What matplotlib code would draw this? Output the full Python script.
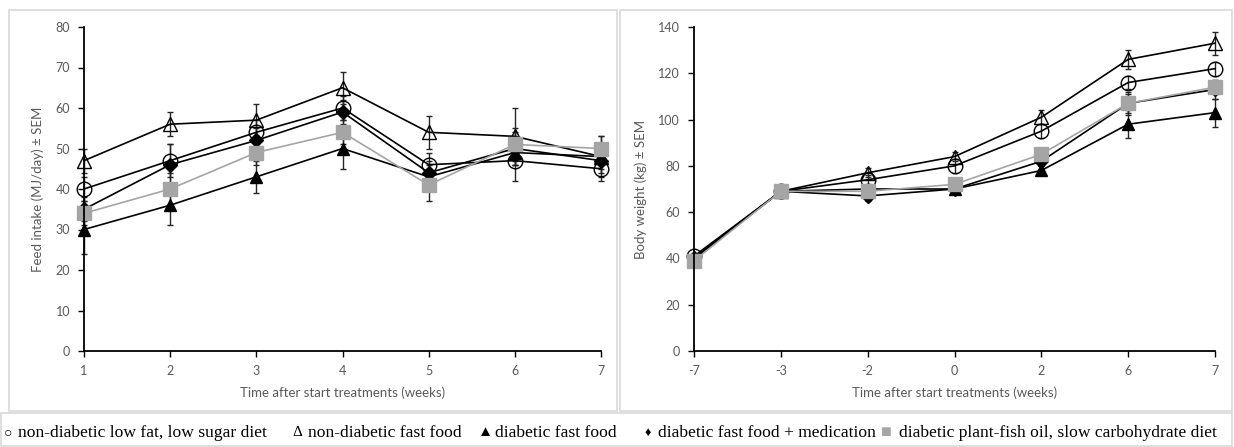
import matplotlib
matplotlib.use("Agg")
import matplotlib.pyplot as plt
from matplotlib.patches import Rectangle

# ---------------- data ----------------
weeks_left = ["1", "2", "3", "4", "5", "6", "7"]
weeks_right = ["-7", "-3", "-2", "0", "2", "6", "7"]

series_names = [
    "non-diabetic low fat, low sugar diet",
    "non-diabetic fast food",
    "diabetic fast food",
    "diabetic fast food + medication",
    "diabetic plant-fish oil, slow carbohydrate diet",
]

# Feed intake (MJ/day)
feed_lowfat = [40, 47, 54, 60, 46, 47, 45]
feed_lowfat_err = [3, 4, 3, 3, 3, 5, 3]
feed_ndff = [47, 56, 57, 65, 54, 53, 48]
feed_ndff_err = [3, 3, 4, 4, 4, 7, 5]
feed_dff = [30, 36, 43, 50, 43, 49, 48]
feed_dff_err = [6, 5, 4, 5, 3, 3, 3]
feed_dffmed = [35, 46, 52, 59, 44, 50, 47]
feed_dffmed_err = [3, 5, 3, 3, 3, 4, 3]
feed_plant = [34, 40, 49, 54, 41, 51, 50]
feed_plant_err = [3, 4, 3, 3, 4, 4, 3]

# Body weight (kg)
bw_lowfat = [41, 69, 74, 80, 95, 116, 122]
bw_lowfat_err = [1, 1, 2, 3, 3, 3, 3]
bw_ndff = [40, 69, 77, 84, 101, 126, 133]
bw_ndff_err = [1, 1, 2, 2, 3, 4, 5]
bw_dff = [40, 69, 70, 70, 78, 98, 103]
bw_dff_err = [1, 1, 1, 1, 2, 6, 6]
bw_dffmed = [40, 69, 67, 70, 82, 107, 113]
bw_dffmed_err = [1, 1, 2, 1, 2, 5, 4]
bw_plant = [39, 69, 69, 72, 85, 107, 114]
bw_plant_err = [1, 1, 2, 2, 2, 4, 3]

# ---------------- style ----------------
W, H = 1234, 447
fig = plt.figure(figsize=(W / 100, H / 100), dpi=100)
fig.patch.set_facecolor("white")

TICK_COL = "#595959"
GRAY = "#A5A5A5"
sans = ["Lato", "DejaVu Sans"]

styles = [
    dict(marker="o", ms=10.5, mfc="none", mec="black", color="black", lw=1.2),
    dict(marker="^", ms=10, mfc="none", mec="black", color="black", lw=1.2),
    dict(marker="^", ms=9, mfc="black", mec="black", color="black", lw=1.2),
    dict(marker="D", ms=7.5, mfc="black", mec="black", color="black", lw=1.2),
    dict(marker="s", ms=10, mfc=GRAY, mec=GRAY, color=GRAY, lw=1.2),
]


def ax_rect(x0, x1, y_top, y_bot):
    return [x0 / W, 1 - y_bot / H, (x1 - x0) / W, (y_bot - y_top) / H]


def draw_panel(ax, cats, data, errs, ymax, ystep, ylabel):
    x = list(range(len(cats)))
    for vals, err, st in zip(data, errs, styles):
        ax.errorbar(x, vals, yerr=err, ecolor="#262626", elinewidth=1.0,
                    capsize=2.3, capthick=1.0, clip_on=False, **st)
    ax.set_xlim(0, len(cats) - 1)
    ax.set_ylim(0, ymax)
    ax.set_xticks(x)
    ax.set_xticklabels(cats)
    ax.set_yticks(range(0, ymax + 1, ystep))
    for s in ["top", "right"]:
        ax.spines[s].set_visible(False)
    for s in ["left", "bottom"]:
        ax.spines[s].set_color("black")
        ax.spines[s].set_linewidth(1.3)
    ax.tick_params(axis="both", direction="out", length=4, width=1.0,
                   colors="black", labelcolor=TICK_COL, labelsize=9, pad=6)
    for lab in ax.get_xticklabels() + ax.get_yticklabels():
        lab.set_fontfamily(sans)
    ax.set_xlabel("Time after start treatments (weeks)", fontsize=9.5,
                  color=TICK_COL, family=sans, labelpad=7)
    ax.set_ylabel(ylabel, fontsize=9.5, color=TICK_COL, family=sans, labelpad=8)


ax1 = fig.add_axes(ax_rect(84, 601, 27, 351))
draw_panel(ax1, weeks_left,
           [feed_lowfat, feed_ndff, feed_dff, feed_dffmed, feed_plant],
           [feed_lowfat_err, feed_ndff_err, feed_dff_err, feed_dffmed_err, feed_plant_err],
           80, 10, "Feed intake (MJ/day) \u00b1 SEM")

ax2 = fig.add_axes(ax_rect(694, 1215, 27, 351))
draw_panel(ax2, weeks_right,
           [bw_lowfat, bw_ndff, bw_dff, bw_dffmed, bw_plant],
           [bw_lowfat_err, bw_ndff_err, bw_dff_err, bw_dffmed_err, bw_plant_err],
           140, 20, "Body weight (kg) \u00b1 SEM")

# ---------------- frames ----------------
BORDER = "#D9D9D9"


def frame(x0, y0, x1, y1):
    fig.patches.append(Rectangle((x0 / W, 1 - y1 / H), (x1 - x0) / W, (y1 - y0) / H,
                                 transform=fig.transFigure, fill=False,
                                 edgecolor=BORDER, lw=1.2, zorder=0))


frame(9, 10, 617, 411)
frame(620, 10, 1232, 411)
frame(1, 413, 1232, 446)

# ---------------- legend (text based) ----------------
serif = ["Liberation Serif", "DejaVu Serif", "DejaVu Sans"]
leg_y = 1 - 433 / H
symbols = ["\u25cb", "\u0394", "\u25b2", "\u2666", "\u25a0"]
sym_colors = ["black", "black", "black", "black", GRAY]
sym_sizes = [10, 11, 11, 9, 13]
sym_x = [4, 292, 478, 645, 881]
text_x0 = [18, 308, 495, 658, 899]

for sx, sym, sc, ss, t0, name in zip(sym_x, symbols, sym_colors, sym_sizes,
                                      text_x0, series_names):
    fig.text(sx / W, leg_y, sym, color=sc, fontsize=ss, family=serif,
             ha="left", va="center")
    fig.text(t0 / W, leg_y, name, color="black", fontsize=12.6,
             family=serif, ha="left", va="center")

fig.savefig("out.png", dpi=100, facecolor="white")
